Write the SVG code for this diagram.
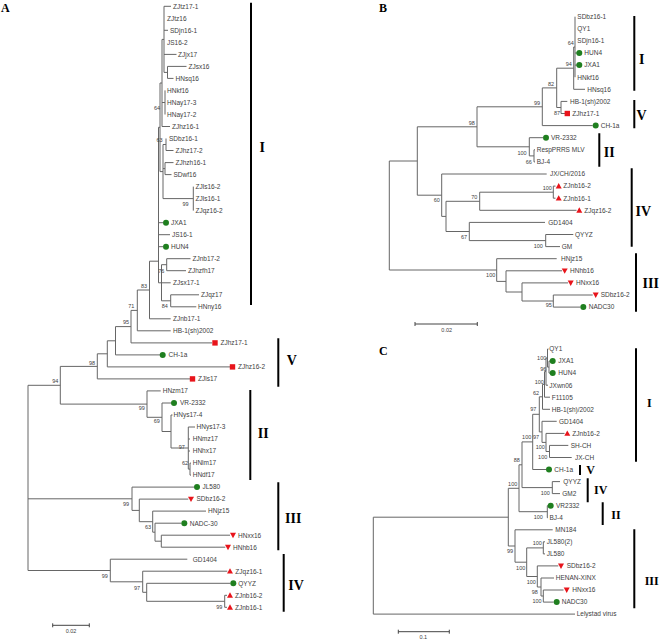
<svg xmlns="http://www.w3.org/2000/svg" width="659" height="639" viewBox="0 0 659 639">
<style>
.t{font-family:"Liberation Sans",Arial,sans-serif;font-size:6.5px;fill:#404040}
.b{font-family:"Liberation Sans",Arial,sans-serif;font-size:5.5px;fill:#404040;text-anchor:middle}
.n{font-family:"Liberation Serif","Times New Roman",serif;font-weight:bold;font-size:14px;fill:#000;text-anchor:middle}
.nc{font-family:"Liberation Serif","Times New Roman",serif;font-weight:bold;font-size:12px;fill:#000;text-anchor:middle}
.p{font-family:"Liberation Serif","Times New Roman",serif;font-weight:bold;font-size:12px;fill:#000}
.e{fill:none;stroke:#666;stroke-width:1}
.bar{fill:none;stroke:#000;stroke-width:2}
.sc{fill:none;stroke:#444;stroke-width:1}
</style>
<defs>
<circle id="dot" r="3" fill="#1f7f1f"/>
<rect id="sq" x="-2.7" y="-2.7" width="5.4" height="5.4" fill="#e8141b"/>
<path id="tu" d="M0,-3L3,2.4L-3,2.4Z" fill="#e8141b"/>
<path id="td" d="M-3,-2.4L3,-2.4L0,3Z" fill="#e8141b"/>
</defs>
<rect width="659" height="639" fill="#fff"/>

<!-- Panel labels -->
<text class="p" x="1" y="12">A</text>
<text class="p" x="379" y="12">B</text>
<text class="p" x="379" y="355">C</text>

<!-- ===== Panel A connectors ===== -->
<g id="connectors-A" class="e">
<path d="M164,6.3V72.4M164,6.3H171M164,30.3H168M164,54.4H176.5M164,72.4H167.5M167.5,66.4V78.4M167.5,66.4H186.5M167.5,78.4H173.5M162,39.4H164"/>
<path d="M165,90.4V114.5M162,102.5H165M162,126.5H170M162,39.4V126.5M160,83H162"/>
<path d="M166,138.5V150.5M166,150.5H173.5M163,144.5H166M165,162.6V174.6M165,162.6H173.5M165,174.6H171.5M163,168.6H165"/>
<path d="M193.3,186.6V210.6M163,198.6H193.3M163,144.5V198.6M160,171.6H163M160,83V171.6M158.5,127.3H160"/>
<path d="M158.5,222.7H163M158.5,234.7H170M158.5,246.7H163"/>
<path d="M166.7,258.7V270.7M166.7,258.7H190.5M166.7,270.7H186M161.5,264.7H166.7M161.5,282.8H170.7M170.7,294.8V306.8M170.7,294.8H199M170.7,306.8H196.3M161.5,300.8H170.7M161.5,264.7V300.8M158.5,282.8H161.5"/>
<path d="M158.5,127.3V282.8M149.5,261.2H158.5M149.5,261.2V318.8M149.5,318.8H170.7M137.3,290H149.5"/>
<path d="M137.3,290V330.8M137.3,330.8H170.7M131,310.4H137.3M131,310.4V342.9M131,342.9H212M115.5,326.6H131"/>
<path d="M115.5,326.6V354.9M115.5,354.9H160M107.3,340.8H115.5M107.3,340.8V366.9M107.3,366.9H230M97.3,353.8H107.3"/>
<path d="M97.3,353.8V378.9M97.3,378.9H190M60.3,366.4H97.3"/>
<path d="M190,463.1V475.1M190,463.1H191M190,475.1H191M188.3,469.1H190M188.3,427V469.1M188.3,427H195M188.3,439H190M188.3,451H190"/>
<path d="M171,415V448M171,415H172.5M171,448H188.3M162,403V431.5M162,403H171M162,431.5H171M147,390.9V417.3M147,390.9H160.7M147,417.3H162"/>
<path d="M60.3,366.4V404.1M60.3,404.1H147M28,385.3V570.5M28,385.3H60.3"/>
<path d="M161.3,535.2V547.2M161.3,535.2H230M161.3,547.2H225.3M155,523.2V541.2M155,523.2H181M155,541.2H161.3M152.7,511.1V532.2M152.7,511.1H206M152.7,532.2H155M139.3,499.1V521.7M139.3,499.1H188.3M139.3,521.7H152.7M132,487.1V510.4M132,487.1H194M132,510.4H139.3M28,498.8H132"/>
<path d="M224.7,595.3V607.3M224.7,595.3H227M224.7,607.3H227M146.7,583.3V601.3M146.7,583.3H230M146.7,601.3H224.7M142.7,571.2V592.3M142.7,571.2H227.3M142.7,592.3H146.7M110.3,559.2V581.8M110.3,559.2H187.3M110.3,581.8H142.7M28,570.5H110.3"/>
</g>

<!-- Panel A leaves -->
<g id="a-ZJtz17-1"><text class="t" x="173" y="8.6">ZJtz17-1</text></g>
<g id="a-ZJtz16"><text class="t" x="167" y="20.6">ZJtz16</text></g>
<g id="a-SDjn16-1"><text class="t" x="170" y="32.6">SDjn16-1</text></g>
<g id="a-JS16-2"><text class="t" x="167" y="44.7">JS16-2</text></g>
<g id="a-ZJjx17"><text class="t" x="178" y="56.7">ZJjx17</text></g>
<g id="a-ZJsx16"><text class="t" x="188.5" y="68.7">ZJsx16</text></g>
<g id="a-HNsq16"><text class="t" x="175.5" y="80.7">HNsq16</text></g>
<g id="a-HNkf16"><text class="t" x="167" y="92.7">HNkf16</text></g>
<g id="a-HNay17-3"><text class="t" x="167" y="104.8">HNay17-3</text></g>
<g id="a-HNay17-2"><text class="t" x="167" y="116.8">HNay17-2</text></g>
<g id="a-ZJhz16-1"><text class="t" x="172" y="128.8">ZJhz16-1</text></g>
<g id="a-SDbz16-1"><text class="t" x="169" y="140.8">SDbz16-1</text></g>
<g id="a-ZJhz17-2"><text class="t" x="175.5" y="152.8">ZJhz17-2</text></g>
<g id="a-ZJhzh16-1"><text class="t" x="175.5" y="164.9">ZJhzh16-1</text></g>
<g id="a-SDwf16"><text class="t" x="173.5" y="176.9">SDwf16</text></g>
<g id="a-ZJls16-2"><text class="t" x="195.5" y="188.9">ZJls16-2</text></g>
<g id="a-ZJls16-1"><text class="t" x="195.5" y="200.9">ZJls16-1</text></g>
<g id="a-ZJqz16-2"><text class="t" x="195.5" y="212.9">ZJqz16-2</text></g>
<g id="a-JXA1"><use href="#dot" x="166" y="222.7"/><text class="t" x="171" y="225">JXA1</text></g>
<g id="a-JS16-1"><text class="t" x="172" y="237">JS16-1</text></g>
<g id="a-HUN4"><use href="#dot" x="166" y="246.7"/><text class="t" x="171" y="249">HUN4</text></g>
<g id="a-ZJnb17-2"><text class="t" x="192.5" y="261">ZJnb17-2</text></g>
<g id="a-ZJhzfh17"><text class="t" x="188" y="273">ZJhzfh17</text></g>
<g id="a-ZJsx17-1"><text class="t" x="173" y="285.1">ZJsx17-1</text></g>
<g id="a-ZJqz17"><text class="t" x="201" y="297.1">ZJqz17</text></g>
<g id="a-HNny16"><text class="t" x="198" y="309.1">HNny16</text></g>
<g id="a-ZJnb17-1"><text class="t" x="173" y="321.1">ZJnb17-1</text></g>
<g id="a-HB-1sh2002"><text class="t" x="173" y="333.1">HB-1(sh)2002</text></g>
<g id="a-ZJhz17-1"><use href="#sq" x="215" y="342.9"/><text class="t" x="220.5" y="345.2">ZJhz17-1</text></g>
<g id="a-CH-1a"><use href="#dot" x="162.7" y="354.9"/><text class="t" x="168.5" y="357.2">CH-1a</text></g>
<g id="a-ZJhz16-2"><use href="#sq" x="232.5" y="366.9"/><text class="t" x="238" y="369.2">ZJhz16-2</text></g>
<g id="a-ZJls17"><use href="#sq" x="192.5" y="378.9"/><text class="t" x="198" y="381.2">ZJls17</text></g>
<g id="a-HNzm17"><text class="t" x="162.7" y="393.2">HNzm17</text></g>
<g id="a-VR-2332"><use href="#dot" x="174" y="403"/><text class="t" x="180" y="405.3">VR-2332</text></g>
<g id="a-HNys17-4"><text class="t" x="173.5" y="417.3">HNys17-4</text></g>
<g id="a-HNys17-3"><text class="t" x="196.5" y="429.3">HNys17-3</text></g>
<g id="a-HNmz17"><text class="t" x="192.7" y="441.3">HNmz17</text></g>
<g id="a-HNhx17"><text class="t" x="192.7" y="453.3">HNhx17</text></g>
<g id="a-HNlm17"><text class="t" x="192.7" y="465.4">HNlm17</text></g>
<g id="a-HNdf17"><text class="t" x="192.7" y="477.4">HNdf17</text></g>
<g id="a-JL580"><use href="#dot" x="197" y="487.1"/><text class="t" x="202.5" y="489.4">JL580</text></g>
<g id="a-SDbz16-2"><use href="#td" x="191" y="499.1"/><text class="t" x="196.5" y="501.4">SDbz16-2</text></g>
<g id="a-HNjz15"><text class="t" x="208" y="513.4">HNjz15</text></g>
<g id="a-NADC-30"><use href="#dot" x="184.3" y="523.2"/><text class="t" x="189.7" y="525.5">NADC-30</text></g>
<g id="a-HNxx16"><use href="#td" x="233" y="535.2"/><text class="t" x="238" y="537.5">HNxx16</text></g>
<g id="a-HNhb16"><use href="#td" x="228" y="547.2"/><text class="t" x="233" y="549.5">HNhb16</text></g>
<g id="a-GD1404"><text class="t" x="192.7" y="561.5">GD1404</text></g>
<g id="a-ZJqz16-1"><use href="#tu" x="230" y="571.2"/><text class="t" x="235.3" y="573.5">ZJqz16-1</text></g>
<g id="a-QYYZ"><use href="#dot" x="233.3" y="583.3"/><text class="t" x="238.3" y="585.6">QYYZ</text></g>
<g id="a-ZJnb16-2"><use href="#tu" x="230" y="595.3"/><text class="t" x="235" y="597.6">ZJnb16-2</text></g>
<g id="a-ZJnb16-1"><use href="#tu" x="230" y="607.3"/><text class="t" x="235" y="609.6">ZJnb16-1</text></g>

<!-- Panel A bootstrap -->
<g id="a-bootstrap">
<text class="b" x="157" y="109.7">64</text>
<text class="b" x="159.5" y="142">63</text>
<text class="b" x="185.5" y="205.8">99</text>
<text class="b" x="161.3" y="272.7">76</text>
<text class="b" x="164.7" y="307.7">84</text>
<text class="b" x="144" y="288">83</text>
<text class="b" x="131.3" y="308">71</text>
<text class="b" x="126" y="324.3">95</text>
<text class="b" x="92" y="364.5">98</text>
<text class="b" x="55.3" y="382.7">94</text>
<text class="b" x="141.7" y="409.7">99</text>
<text class="b" x="156.7" y="422.7">69</text>
<text class="b" x="181.7" y="449">97</text>
<text class="b" x="185" y="465.3">62</text>
<text class="b" x="126" y="506.3">99</text>
<text class="b" x="148" y="529.3">63</text>
<text class="b" x="104.7" y="577.7">99</text>
<text class="b" x="137" y="589.7">97</text>
<text class="b" x="219.3" y="609.3">99</text>
</g>

<!-- Panel A scale -->
<g id="a-scale">
<path class="sc" d="M52.7,625.3H89.3M52.7,623.3V627.3M89.3,623.3V627.3"/>
<text class="b" x="71" y="632.5">0.02</text>
</g>

<!-- Panel A clade bars -->
<g id="a-clades">
<path class="bar" d="M251,2.7V305M278.3,338.3V386.7M250.3,390V480M278.3,482.3V550.3M283.7,554V611.7"/>
<text class="n" x="262.3" y="151.5">I</text>
<text class="n" x="291.7" y="364.8">V</text>
<text class="n" x="263.3" y="438.2">II</text>
<text class="n" x="293.3" y="523.2">III</text>
<text class="n" x="296" y="589.8">IV</text>
</g>

<!-- ===== Panel B connectors ===== -->
<g id="connectors-B" class="e">
<path d="M575,16.7V77.2M575,53H577M575,65.1H577M573.7,47V89.3M573.7,47H575M573.7,89.3H585"/>
<path d="M561,101.4V113.5M561,101.4H567.3M561,113.5H565M556.7,68.2V107.5M556.7,68.2H573.7M556.7,107.5H561"/>
<path d="M542.3,87.9V125.6M542.3,87.9H556.7M542.3,125.6H592.7"/>
<path d="M534,149.8V161.9M534,149.8H535M534,161.9H535M529.3,137.7V155.9M529.3,137.7H543M529.3,155.9H534"/>
<path d="M477,106.8V146.8M477,106.8H542.3M477,146.8H529.3"/>
<path d="M553.3,186.1V198.2M553.3,186.1H555.5M553.3,198.2H555.5M479.7,192.2V210.3M479.7,192.2H553.3M479.7,210.3H576.5"/>
<path d="M545.7,234.5V246.6M545.7,234.5H573.3M545.7,246.6H560M469.3,222.4V240.6M469.3,222.4H545M469.3,240.6H545.7"/>
<path d="M446,201.3V231.5M446,201.3H479.7M446,231.5H469.3M441.7,174V216.4M441.7,174H546.7M441.7,216.4H446"/>
<path d="M417.3,126.8V195.2M417.3,126.8H477M417.3,195.2H441.7"/>
<path d="M553.3,295V307.1M553.3,295H592.7M553.3,307.1H580.3M522,282.9V301M522,282.9H568M522,301H553.3M506,270.8V292M506,270.8H562M506,292H522M496.7,258.7V281.4M496.7,258.7H556.7M496.7,281.4H506"/>
<path d="M389.3,161V270M389.3,161H417.3M389.3,270H496.7"/>
</g>

<!-- Panel B leaves -->
<g id="b-SDbz16-1"><text class="t" x="577.3" y="19">SDbz16-1</text></g>
<g id="b-QY1"><text class="t" x="577.3" y="31.1">QY1</text></g>
<g id="b-SDjn16-1"><text class="t" x="577.3" y="43.2">SDjn16-1</text></g>
<g id="b-HUN4"><use href="#dot" x="579.3" y="53"/><text class="t" x="584.3" y="55.3">HUN4</text></g>
<g id="b-JXA1"><use href="#dot" x="579.3" y="65.1"/><text class="t" x="584.3" y="67.4">JXA1</text></g>
<g id="b-HNkf16"><text class="t" x="577.3" y="79.5">HNkf16</text></g>
<g id="b-HNsq16"><text class="t" x="587.3" y="91.6">HNsq16</text></g>
<g id="b-HB-1sh2002"><text class="t" x="570" y="103.7">HB-1(sh)2002</text></g>
<g id="b-ZJhz17-1"><use href="#sq" x="567.3" y="113.5"/><text class="t" x="572.3" y="115.8">ZJhz17-1</text></g>
<g id="b-CH-1a"><use href="#dot" x="595.7" y="125.6"/><text class="t" x="600.7" y="127.9">CH-1a</text></g>
<g id="b-VR-2332"><use href="#dot" x="546" y="137.7"/><text class="t" x="551" y="140">VR-2332</text></g>
<g id="b-RespPRRS-MLV"><text class="t" x="536.7" y="152.1">RespPRRS MLV</text></g>
<g id="b-BJ-4"><text class="t" x="536.7" y="164.2">BJ-4</text></g>
<g id="b-JXCH2016"><text class="t" x="550" y="176.3">JX/CH/2016</text></g>
<g id="b-ZJnb16-2"><use href="#tu" x="558.7" y="186.1"/><text class="t" x="563.3" y="188.4">ZJnb16-2</text></g>
<g id="b-ZJnb16-1"><use href="#tu" x="558.7" y="198.2"/><text class="t" x="563.3" y="200.5">ZJnb16-1</text></g>
<g id="b-ZJqz16-2"><use href="#tu" x="579.3" y="210.3"/><text class="t" x="584.3" y="212.6">ZJqz16-2</text></g>
<g id="b-GD1404"><text class="t" x="548.3" y="224.7">GD1404</text></g>
<g id="b-QYYZ"><text class="t" x="575" y="236.8">QYYZ</text></g>
<g id="b-GM"><text class="t" x="561.7" y="248.9">GM</text></g>
<g id="b-HNjz15"><text class="t" x="561" y="261">HNjz15</text></g>
<g id="b-HNhb16"><use href="#td" x="564.7" y="270.8"/><text class="t" x="570" y="273.1">HNhb16</text></g>
<g id="b-HNxx16"><use href="#td" x="570.7" y="282.9"/><text class="t" x="576" y="285.2">HNxx16</text></g>
<g id="b-SDbz16-2"><use href="#td" x="595.7" y="295"/><text class="t" x="600.7" y="297.3">SDbz16-2</text></g>
<g id="b-NADC30"><use href="#dot" x="583.3" y="307.1"/><text class="t" x="588.7" y="309.4">NADC30</text></g>

<!-- Panel B bootstrap -->
<g id="b-bootstrap">
<text class="b" x="570.7" y="45.3">64</text>
<text class="b" x="568.7" y="66.3">94</text>
<text class="b" x="551" y="86.3">82</text>
<text class="b" x="537" y="104.7">99</text>
<text class="b" x="557" y="115.3">87</text>
<text class="b" x="471.7" y="124.7">98</text>
<text class="b" x="522" y="154.7">100</text>
<text class="b" x="528.7" y="164.3">66</text>
<text class="b" x="547.3" y="190.3">100</text>
<text class="b" x="474.3" y="199.3">70</text>
<text class="b" x="436.7" y="202">60</text>
<text class="b" x="464" y="238.7">67</text>
<text class="b" x="538.3" y="248">100</text>
<text class="b" x="490.7" y="277">100</text>
<text class="b" x="548.7" y="307.3">95</text>
</g>

<g id="b-scale">
<path class="sc" d="M415,324H477.3M415,322V326M477.3,322V326"/>
<text class="b" x="446.7" y="332">0.02</text>
</g>

<g id="b-clades">
<path class="bar" d="M634.3,16V90.7M634.3,100V128.3M599.3,133.3V166.7M631.7,168.3V246.7M636,253.3V311.7"/>
<text class="n" x="641.7" y="64.2">I</text>
<text class="n" x="641.5" y="119.9">V</text>
<text class="n" x="609.3" y="156.6">II</text>
<text class="n" x="643.3" y="215.6">IV</text>
<text class="n" x="650.7" y="287.6">III</text>
</g>

<!-- ===== Panel C connectors ===== -->
<g id="connectors-C" class="e">
<path d="M549,361.1V373.1M549,361.1H550M549,373.1H550M547.5,349V367.1M547.5,349H548.5M547.5,367.1H549M546,358V385.2M546,358H547.5M546,385.2H548"/>
<path d="M544.5,371.6V397.2M544.5,371.6H546M544.5,397.2H550M542.5,384.4V409.3M542.5,384.4H544.5M542.5,409.3H550"/>
<path d="M549.5,445.4V457.5M549.5,445.4H568.3M549.5,457.5H571.7M546,433.4V451.5M546,433.4H564.5M546,451.5H549.5M542,421.3V442.4M542,421.3H556.7M542,442.4H546"/>
<path d="M539.3,396.8V431.9M539.3,396.8H542.5M539.3,431.9H542M532.7,414.3V469.5M532.7,414.3H539.3M532.7,469.5H546"/>
<path d="M552.3,481.6V493.6M552.3,481.6H560M552.3,493.6H560M522,441.9V487.6M522,441.9H532.7M522,487.6H552.3"/>
<path d="M547.3,505.7V517.7M547.3,505.7H548M547.3,517.7H548M519,464.8V511.7M519,464.8H522M519,511.7H547.3"/>
<path d="M543.3,590V602.1M543.3,590H563.5M543.3,602.1H553.7M541,578V596M541,578H554M541,596H543.3M537.3,565.9V587M537.3,565.9H558.3M537.3,587H541"/>
<path d="M543.3,541.8V553.9M543.3,541.8H545M543.3,553.9H545M526.7,547.9V576.5M526.7,547.9H543.3M526.7,576.5H537.3M515,529.8V562.2M515,529.8H552.7M515,562.2H526.7"/>
<path d="M508.3,488.3V546M508.3,488.3H519M508.3,546H515M373.3,517.2V614.1M373.3,517.2H508.3M373.3,614.1H575"/>
</g>

<!-- Panel C leaves -->
<g id="c-QY1"><text class="t" x="549.3" y="351.3">QY1</text></g>
<g id="c-JXA1"><use href="#dot" x="552.7" y="361.1"/><text class="t" x="558.3" y="363.4">JXA1</text></g>
<g id="c-HUN4"><use href="#dot" x="552.7" y="373.1"/><text class="t" x="558.3" y="375.4">HUN4</text></g>
<g id="c-JXwn06"><text class="t" x="549.3" y="387.5">JXwn06</text></g>
<g id="c-F11105"><text class="t" x="551.7" y="399.5">F11105</text></g>
<g id="c-HB-1sh2002"><text class="t" x="551.7" y="411.6">HB-1(sh)/2002</text></g>
<g id="c-GD1404"><text class="t" x="559" y="423.6">GD1404</text></g>
<g id="c-ZJnb16-2"><use href="#tu" x="567.3" y="433.4"/><text class="t" x="572.3" y="435.7">ZJnb16-2</text></g>
<g id="c-SH-CH"><text class="t" x="570.7" y="447.7">SH-CH</text></g>
<g id="c-JX-CH"><text class="t" x="575" y="459.8">JX-CH</text></g>
<g id="c-CH-1a"><use href="#dot" x="549" y="469.5"/><text class="t" x="554.3" y="471.8">CH-1a</text></g>
<g id="c-QYYZ"><text class="t" x="563.3" y="483.9">QYYZ</text></g>
<g id="c-GM2"><text class="t" x="562.3" y="495.9">GM2</text></g>
<g id="c-VR2332"><use href="#dot" x="550.7" y="505.7"/><text class="t" x="556" y="508">VR2332</text></g>
<g id="c-BJ-4"><text class="t" x="549.5" y="520">BJ-4</text></g>
<g id="c-MN184"><text class="t" x="555.3" y="532.1">MN184</text></g>
<g id="c-JL580-2"><text class="t" x="546.7" y="544.1">JL580(2)</text></g>
<g id="c-JL580"><text class="t" x="546.7" y="556.2">JL580</text></g>
<g id="c-SDbz16-2"><use href="#td" x="561" y="565.9"/><text class="t" x="566.7" y="568.2">SDbz16-2</text></g>
<g id="c-HENAN-XINX"><text class="t" x="555.7" y="580.3">HENAN-XINX</text></g>
<g id="c-HNxx16"><use href="#td" x="566.7" y="590"/><text class="t" x="572.3" y="592.3">HNxx16</text></g>
<g id="c-NADC30"><use href="#dot" x="556.7" y="602.1"/><text class="t" x="561.7" y="604.4">NADC30</text></g>
<g id="c-Lelystad"><text class="t" x="576.7" y="616.4">Lelystad virus</text></g>

<g id="c-bootstrap">
<text class="b" x="541.7" y="359.7">100</text>
<text class="b" x="543.3" y="371.3">96</text>
<text class="b" x="539.3" y="383.7">100</text>
<text class="b" x="536" y="395.3">62</text>
<text class="b" x="533.3" y="411.3">97</text>
<text class="b" x="526.7" y="439.3">100</text>
<text class="b" x="536" y="439.3">97</text>
<text class="b" x="540.3" y="449.3">100</text>
<text class="b" x="542.7" y="458.7">100</text>
<text class="b" x="516.7" y="462">88</text>
<text class="b" x="512.7" y="486.3">100</text>
<text class="b" x="545.3" y="495.3">100</text>
<text class="b" x="538.3" y="519.3">100</text>
<text class="b" x="537.3" y="545.3">100</text>
<text class="b" x="510" y="553">99</text>
<text class="b" x="520.7" y="569.7">100</text>
<text class="b" x="531.3" y="584">100</text>
<text class="b" x="534.7" y="594.3">98</text>
<text class="b" x="537" y="603.3">100</text>
</g>

<g id="c-scale">
<path class="sc" d="M398.3,631.7H449.3M398.3,629.7V633.7M449.3,629.7V633.7"/>
<text class="b" x="423.3" y="638.6">0.1</text>
</g>

<g id="c-clades">
<path class="bar" d="M636,348.3V461.7M580,465V475M587.7,478.3V502.3M602.7,502.3V525M634.3,529.3V608.3"/>
<text class="nc" x="649.3" y="406.9">I</text>
<text class="nc" x="590.7" y="474.2">V</text>
<text class="nc" x="600.7" y="494.2">IV</text>
<text class="nc" x="616" y="519.2">II</text>
<text class="nc" x="651.7" y="584.9">III</text>
</g>
</svg>
